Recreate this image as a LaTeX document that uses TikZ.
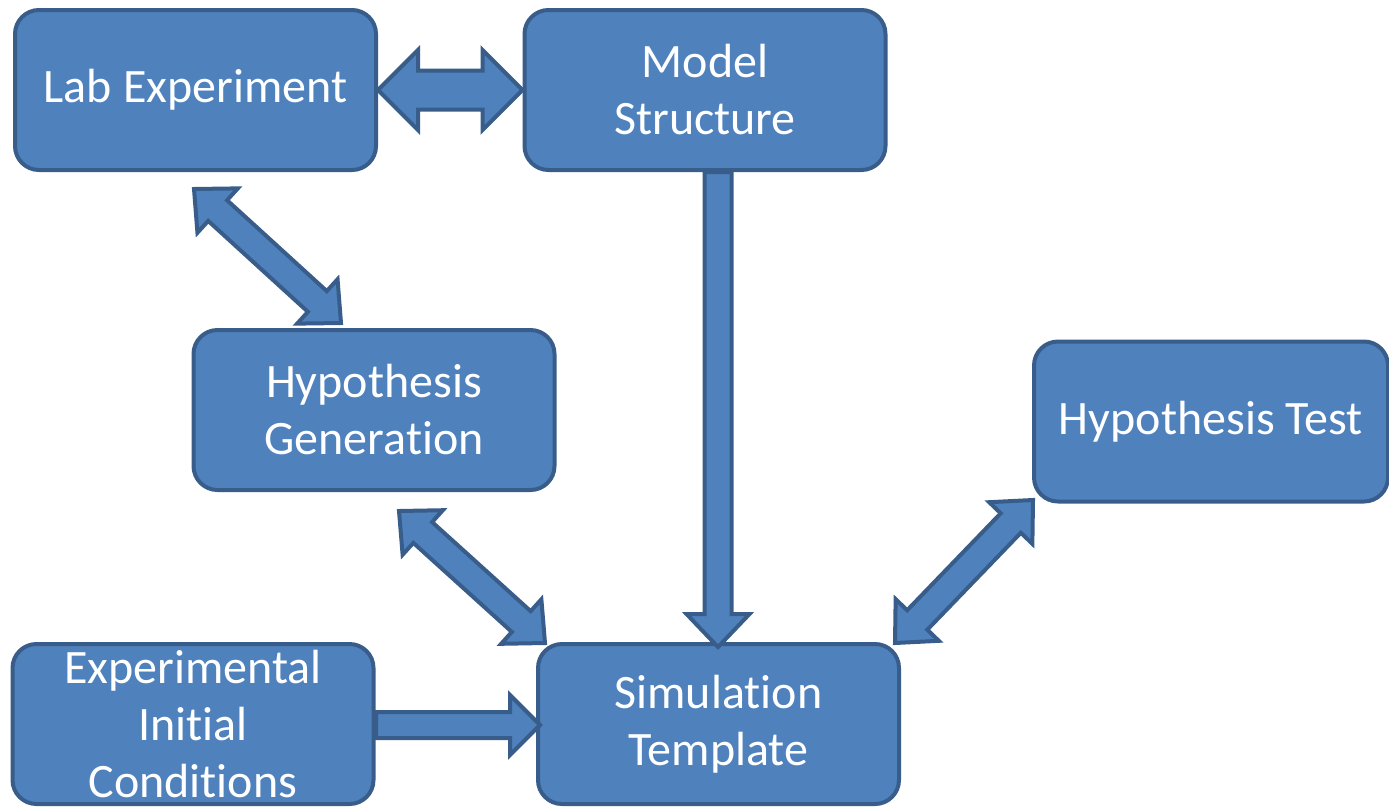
\documentclass[tikz,border=0pt]{standalone}
\usepackage{fontspec}
\setmainfont{Carlito}[RawFeature={-liga;-clig;-dlig;-calt}]
\usetikzlibrary{calc}
\definecolor{boxfill}{HTML}{4F81BD}
\definecolor{boxline}{HTML}{385D8A}
\tikzset{
  procbox/.style={draw=boxline, fill=boxfill, line width=4pt, rounded corners=24pt,
    minimum width=361pt, minimum height=160pt, inner sep=0pt, align=center,
    text=white, font=\fontsize{48}{57}\selectfont},
  blockarrow/.style={draw=boxline, fill=boxfill, line width=4pt, line join=miter}
}
% block arrow with heads at both ends:
% #1,#2 tips, #3 head length, #4 head half width, #5 shaft half width
\newcommand\twoheadblock[5]{%
  \draw[blockarrow] (#1)
    -- ($(#1)!#3!(#2)!#4!90:(#2)$) -- ($(#1)!#3!(#2)!#5!90:(#2)$)
    -- ($(#2)!#3!(#1)!#5!-90:(#1)$) -- ($(#2)!#3!(#1)!#4!-90:(#1)$)
    -- (#2)
    -- ($(#2)!#3!(#1)!#4!90:(#1)$) -- ($(#2)!#3!(#1)!#5!90:(#1)$)
    -- ($(#1)!#3!(#2)!#5!-90:(#2)$) -- ($(#1)!#3!(#2)!#4!-90:(#2)$)
    -- cycle;}
% block arrow with a flat tail #1 and a head at #2
\newcommand\oneheadblock[5]{%
  \draw[blockarrow] ($(#1)!#5!90:(#2)$)
    -- ($(#2)!#3!(#1)!#5!-90:(#1)$) -- ($(#2)!#3!(#1)!#4!-90:(#1)$)
    -- (#2)
    -- ($(#2)!#3!(#1)!#4!90:(#1)$) -- ($(#2)!#3!(#1)!#5!90:(#1)$)
    -- ($(#1)!#5!-90:(#2)$)
    -- cycle;}
\begin{document}
\begin{tikzpicture}[x=1pt,y=-1pt]
\useasboundingbox (0,0) rectangle (1389,807);

% process boxes
\node[procbox] (lab)   at (195.5,90)  {\raisebox{-5pt}{Lab Experiment}};
\node[procbox] (model) at (705,90)    {Model\\Structure};
\node[procbox] (hgen)  at (374,410)   {Hypothesis\\Generation};
\node[procbox, minimum width=354pt] (htest) at (1211,421.5) {\raisebox{-3pt}{Hypothesis Test}};
\node[procbox] (init)  at (193,724)   {Experimental\\Initial\\Conditions};
\node[procbox] (sim)   at (718.5,724) {Simulation\\Template};

% arrow end points
\coordinate (labR)   at (lab.east);
\coordinate (modelL) at (model.west);
\coordinate (labB)   at (194,189);
\coordinate (hgenT)  at (341,323);
\coordinate (hgenB)  at (399,511);
\coordinate (simTL)  at (545,643);
\coordinate (modelB) at (718,172);
\coordinate (simT)   at (718,647);
\coordinate (simTR)  at (895,643);
\coordinate (htestB) at (1033,500);
\coordinate (initR)  at (376,725);
\coordinate (simL)   at (540,725);

% connectors
\twoheadblock{labR}{modelL}{40pt}{40pt}{19.5pt}
\twoheadblock{labB}{hgenT}{32pt}{30pt}{14pt}
\twoheadblock{hgenB}{simTL}{32pt}{30pt}{14pt}
\oneheadblock{modelB}{simT}{33pt}{31.5pt}{13.5pt}
\twoheadblock{simTR}{htestB}{32pt}{30pt}{14pt}
\oneheadblock{initR}{simL}{30pt}{30pt}{13pt}
\end{tikzpicture}
\end{document}
